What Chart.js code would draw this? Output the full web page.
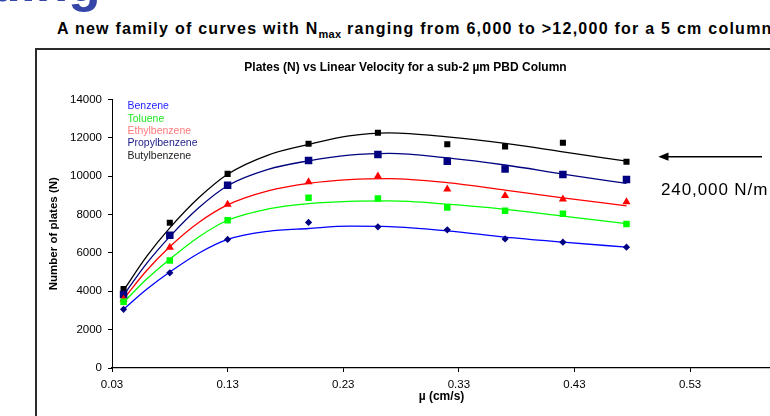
<!DOCTYPE html>
<html>
<head>
<meta charset="utf-8">
<script src="https://cdn.jsdelivr.net/npm/chart.js@4.4.1/dist/chart.umd.min.js"></script>
<style>
  html, body { margin: 0; padding: 0; background: #fff; }
  #page { position: relative; width: 770px; height: 416px; overflow: hidden; font-family: "Liberation Sans", Arial, sans-serif; }
  #heading { position: absolute; left: -88px; top: -44px; font-size: 53px; line-height: 53px; font-weight: bold; color: #3546a8; white-space: nowrap; }
  #headline { position: absolute; left: 57px; top: 21px; font-size: 16px; line-height: 16px; font-weight: bold; letter-spacing: 1.25px; color: #000; white-space: nowrap; }
  #headline sub { font-size: 11px; vertical-align: -4px; line-height: 0; letter-spacing: 0.3px; }
  #frame { position: absolute; left: 35px; top: 48px; width: 800px; height: 500px; border: 2px solid #2a2a2a; }
  #chartBox { position: absolute; left: 0; top: 0; width: 790px; height: 416px; }
  #note { position: absolute; left: 661px; top: 181px; font-size: 17px; line-height: 17px; letter-spacing: 0.9px; color: #000; white-space: nowrap; }
  #arrow { position: absolute; left: 0; top: 0; }
</style>
</head>
<body>
<div id="page">
  <div id="heading">Scaling</div>
  <div id="headline">A new family of curves with N<sub>max</sub> ranging from 6,000 to &gt;12,000 for a 5 cm column</div>
  <div id="frame"></div>
  <div id="chartBox"><canvas id="platesChart" width="790" height="416"></canvas></div>
  <svg id="arrow" width="770" height="416">
    <line x1="666" y1="156.7" x2="762" y2="156.7" stroke="#000" stroke-width="1.5"/>
    <polygon points="658.3,156.7 668.5,152.6 668.5,160.8" fill="#000"/>
  </svg>
  <div id="note">240,000 N/m</div>
</div>
<script>
// linear velocity (cm/s) of the measured points
const velocity = [0.04, 0.08, 0.13, 0.20, 0.26, 0.32, 0.37, 0.42, 0.475];

// measured plate counts
const benzene       = [3060, 4960, 6700, 7590, 7360, 7200, 6730, 6560, 6300];
const toluene       = [3450, 5600, 7700, 8870, 8840, 8370, 8190, 8040, 7500];
const ethylbenzene  = [3590, 6280, 8530, 9700, 10000, 9320, 8980, 8800, 8660];
const propylbenzene = [3830, 6920, 9520, 10820, 11130, 10780, 10370, 10090, 9830];
const butylbenzene  = [4110, 7570, 10120, 11690, 12260, 11660, 11550, 11740, 10750];

// trend curves
const curveVelocity = [0.04, 0.06, 0.08, 0.105, 0.13, 0.165, 0.20, 0.235, 0.27, 0.32, 0.37, 0.42, 0.475];
const benzeneFit       = [3060, 4100, 5000, 5980, 6700, 7125, 7270, 7390, 7370, 7150, 6820, 6560, 6300];
const tolueneFit       = [3420, 4635, 5670, 6830, 7700, 8290, 8570, 8690, 8710, 8540, 8270, 7920, 7530];
const ethylbenzeneFit  = [3600, 5080, 6320, 7580, 8500, 9230, 9620, 9815, 9870, 9660, 9270, 8870, 8450];
const propylbenzeneFit = [3800, 5455, 6850, 8350, 9500, 10350, 10800, 11100, 11190, 10950, 10580, 10110, 9620];
const butylbenzeneFit  = [4050, 5815, 7300, 8870, 10100, 11100, 11650, 12100, 12260, 12050, 11710, 11270, 10780];

const seriesNames = ['Benzene', 'Toluene', 'Ethylbenzene', 'Propylbenzene', 'Butylbenzene'];
const xTicks = [0.03, 0.13, 0.23, 0.33, 0.43, 0.53];
const yTicks = [0, 2000, 4000, 6000, 8000, 10000, 12000, 14000];

const measured = [benzene, toluene, ethylbenzene, propylbenzene, butylbenzene];
const fitted = [benzeneFit, tolueneFit, ethylbenzeneFit, propylbenzeneFit, butylbenzeneFit];

const lineColors = ['#0000ff', '#00ff00', '#ff0000', '#000080', '#000000'];
const markColors = ['#000080', '#00ff00', '#ff0000', '#000080', '#000000'];
const markStyles = ['rectRot', 'rect', 'triangle', 'rect', 'rect'];
const markSizes = [3.6, 4.6, 4.7, 5.3, 4.3];
const legendColors = ['#1f1fff', '#22e822', '#ff7a7a', '#1c1c8a', '#222222'];

const FONT = '"Liberation Sans", Arial, sans-serif';

const datasets = [];
fitted.forEach((vals, i) => {
    datasets.push({
        label: seriesNames[i] + ' fit',
        data: curveVelocity.map((x, j) => ({ x: x, y: vals[j] })),
        showLine: true,
        borderColor: lineColors[i],
        borderWidth: 1.3,
        pointRadius: 0,
        cubicInterpolationMode: 'monotone',
        order: 2
    });
});
measured.forEach((vals, i) => {
    datasets.push({
        label: seriesNames[i],
        data: velocity.map((x, j) => ({ x: x, y: vals[j] })),
        showLine: false,
        pointStyle: markStyles[i],
        pointRadius: markSizes[i],
        pointBackgroundColor: markColors[i],
        pointBorderWidth: 0,
        order: 1
    });
});

const textLegend = {
    id: 'textLegend',
    afterDatasetsDraw(chart) {
        const { ctx, chartArea } = chart;
        ctx.save();
        ctx.font = '10.5px ' + FONT;
        ctx.textBaseline = 'alphabetic';
        seriesNames.forEach((name, i) => {
            ctx.fillStyle = legendColors[i];
            ctx.fillText(name, chartArea.left + 15.5, chartArea.top + 9.7 + i * 12.4);
        });
        ctx.restore();
    }
};

const ctx = document.getElementById('platesChart').getContext('2d');
const platesChart = new Chart(ctx, {
    type: 'scatter',
    data: { datasets: datasets },
    plugins: [textLegend],
    options: {
        responsive: false,
        animation: false,
        layout: { padding: { left: 40, right: 19, top: 0, bottom: 0 } },
        plugins: {
            legend: { display: false },
            tooltip: { enabled: false },
            title: {
                display: true,
                text: 'Plates (N) vs Linear Velocity for a sub-2 \u00b5m PBD Column',
                color: '#000',
                font: { family: FONT, size: 12, weight: 'bold' },
                padding: { top: 60, bottom: 25 }
            }
        },
        scales: {
            x: {
                type: 'linear',
                min: 0.03,
                max: 0.6,
                afterBuildTicks: (s) => { s.ticks = xTicks.map(v => ({ value: v })); },
                afterFit: (s) => { s.height = 48; },
                ticks: {
                    color: '#000',
                    padding: 6,
                    font: { family: FONT, size: 11.5 },
                    callback: (v) => Number(v).toFixed(2)
                },
                grid: { display: true, drawOnChartArea: false, drawTicks: true, tickLength: 4, color: '#000' },
                border: { display: true, color: '#000', width: 1.2 },
                title: {
                    display: true,
                    text: '\u00b5 (cm/s)',
                    color: '#000',
                    font: { family: FONT, size: 12, weight: 'bold' },
                    padding: { top: 0, bottom: 12 }
                }
            },
            y: {
                min: 0,
                max: 14000,
                afterBuildTicks: (s) => { s.ticks = yTicks.map(v => ({ value: v })); },
                afterFit: (s) => { s.width = 72; },
                ticks: {
                    color: '#000',
                    padding: 6,
                    font: { family: FONT, size: 11.5 },
                    callback: (v) => String(v)
                },
                grid: { display: true, drawOnChartArea: false, drawTicks: true, tickLength: 4, color: '#000' },
                border: { display: true, color: '#000', width: 1 },
                title: {
                    display: true,
                    text: 'Number of plates (N)',
                    color: '#000',
                    font: { family: FONT, size: 11.5, weight: 'bold' },
                    padding: { top: 7, bottom: 0 }
                }
            }
        }
    }
});
</script>
</body>
</html>
